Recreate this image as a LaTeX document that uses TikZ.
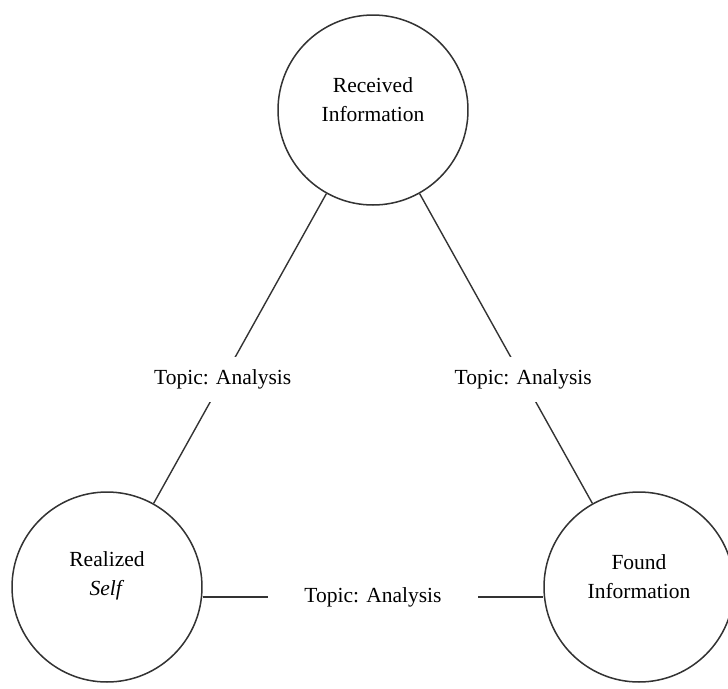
\documentclass[tikz,border=0pt]{standalone}
\usepackage{fontspec}
\setmainfont{Liberation Serif}
\tikzset{
  topic/.style={circle,draw=black!80,line width=0.7pt,minimum size=88.3pt,inner sep=0pt},
  tag/.style={fill=white,inner xsep=15pt,inner ysep=6pt},
  link/.style={draw=black!80,line width=0.65pt}
}

\begin{document}
\begin{tikzpicture}[x=0.4648pt,y=-0.4648pt,font=\fontsize{10}{13.5}\selectfont]
\useasboundingbox (0,0) rectangle (728,688);
\clip (0,0) rectangle (728,688);
% the three circles
\node[topic,label={[yshift=5pt,align=center]center:Received\\Information}] (rec) at (373,110) {};
\node[topic,label={[yshift=5pt,align=center]center:Realized\\\textit{Self}}] (self) at (107,587) {};
\node[topic,label={[yshift=5pt,align=center]center:Found\\Information}] (found) at (639,587) {};
% links
\draw[link] (rec) -- node[tag,pos=0.6] (ta) {Topic: Analysis} (self);
\draw[link] (rec) -- node[tag,pos=0.6] (tb) {Topic: Analysis} (found);
\draw[link] ([yshift=-4.6pt]self.east) -- node[tag,inner xsep=17pt] (tc) {Topic: Analysis} ([yshift=-4.6pt]found.west);
\end{tikzpicture}
\end{document}
